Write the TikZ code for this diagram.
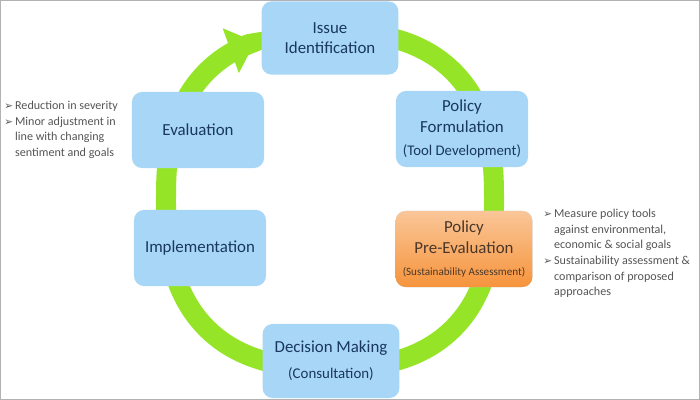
\documentclass[tikz,border=0pt]{standalone}
\usepackage{fontspec}
\setmainfont{Carlito}
\newfontfamily\symfont{DejaVu Sans}
\usetikzlibrary{arrows.meta}
\definecolor{ringgreen}{RGB}{150,228,40}
\definecolor{boxblue}{RGB}{168,214,246}
\definecolor{textblue}{RGB}{25,55,95}
\definecolor{orangetop}{RGB}{250,198,152}
\definecolor{orangebot}{RGB}{246,148,60}
\definecolor{orangetext}{RGB}{75,55,40}
\definecolor{notegray}{RGB}{85,85,85}
\newcommand{\bul}{{\symfont\fontsize{7.5}{7.5}\selectfont ➢}\,}
\newcommand{\ind}{\phantom{\bul}}
\begin{document}
\begin{tikzpicture}[x=0.025cm,y=-0.025cm,
 stage/.style={rounded corners=0.25cm,fill=boxblue,text=textblue,align=center,minimum width=3.3cm,minimum height=1.9cm,font=\fontsize{12}{14.5}\selectfont},
 hotstage/.style={stage,top color=orangetop,bottom color=orangebot,text=orangetext},
 note/.style={anchor=north west,align=left,text=notegray,inner sep=0pt,font=\fontsize{8.6}{11.1}\selectfont}]
\useasboundingbox (0,0) rectangle (700,400);
\draw[gray!60,line width=0.035cm] (0.7,0.7) rectangle (699.3,399.3);
\draw[ringgreen,line width=0.5cm,-{Triangle[width=1.15cm,length=0.65cm]}] plot[domain=-89.9:248,samples=120,smooth]
 ({330+164*sign(cos(\x))*(abs(cos(\x))+0.0001)^0.8},{200+168*sign(sin(\x))*(abs(sin(\x))+0.0001)^0.8});
\node[stage,minimum width=3.42cm,minimum height=1.83cm] (issue) at (330,38) {Issue\\Identification};
\node[stage] (formulation) at (462,129) {Policy\\Formulation\\[2pt]{\fontsize{10.5}{12}\selectfont(Tool Development)}};
\node[hotstage,minimum width=3.42cm] (preeval) at (464,249) {Policy\\Pre-Evaluation\\[1pt]{\fontsize{7.9}{9}\selectfont(Sustainability Assessment)}};
\node[stage,minimum width=3.42cm,minimum height=1.85cm] (decision) at (331,361) {Decision Making\\[4pt]{\fontsize{10.6}{12}\selectfont(Consultation)}};
\node[stage] (implementation) at (200,248) {Implementation};
\node[stage] (evaluation) at (198,130) {Evaluation};
\node[note] (evalnotes) at (4,101) {\bul Reduction in severity\\ \bul Minor adjustment in\\ \ind line with changing\\ \ind sentiment and goals};
\node[note] (prenotes) at (543,209) {\bul Measure policy tools\\ \ind against environmental,\\ \ind economic \& social goals\\ \bul Sustainability assessment \&\\ \ind comparison of proposed\\ \ind approaches};
\end{tikzpicture}
\end{document}
